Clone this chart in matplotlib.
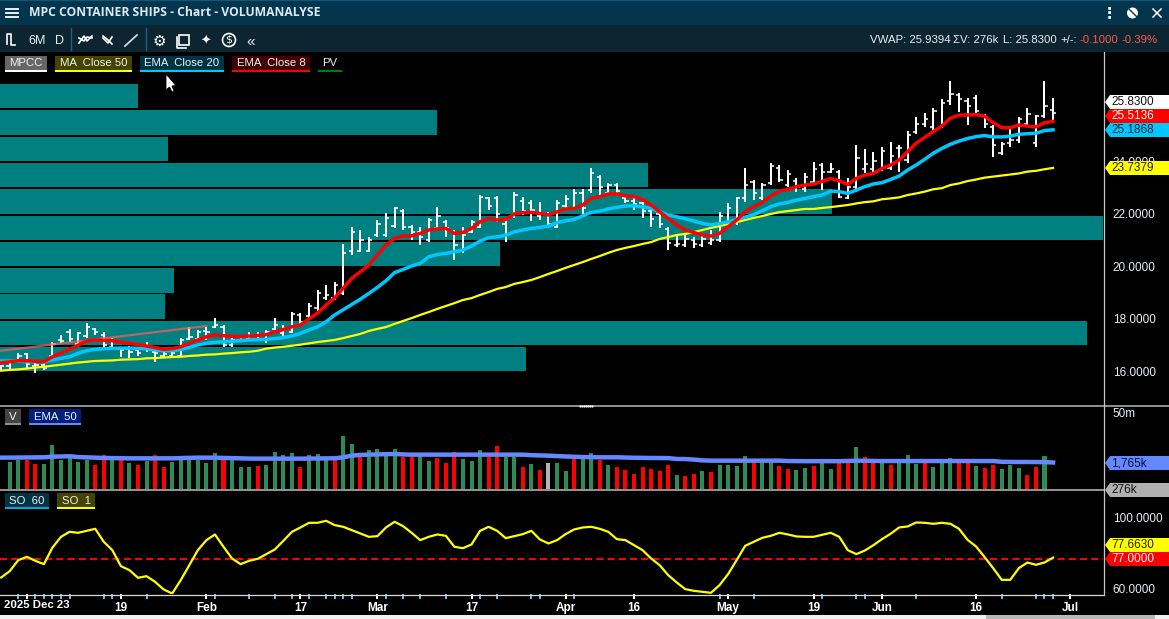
import matplotlib
matplotlib.use("Agg")
import numpy as np
import matplotlib.pyplot as plt
from matplotlib.patches import Polygon, Rectangle
from matplotlib.ticker import FixedLocator, NullLocator, FuncFormatter

W, H = 1169, 619
plt.rcParams['font.family'] = ['Liberation Sans', 'DejaVu Sans']

# price bars
high = [16.25, 16.44, 16.70, 16.72, 16.31, 16.31, 17.13, 17.39, 17.60, 17.51, 17.83, 17.64, 17.51, 17.26, 16.94, 16.97,
        16.84, 17.13, 16.82, 16.75, 16.75, 17.26, 17.68, 17.58, 17.70, 18.02, 17.77, 17.26, 17.26, 17.51, 17.51, 17.58,
        18.02, 17.77, 18.27, 18.21, 18.60, 19.10, 19.30, 19.40, 20.83, 21.50, 21.38, 21.12, 21.76, 22.01, 22.24, 22.16,
        21.57, 21.50, 21.82, 22.26, 21.76, 21.38, 21.50, 21.76, 22.71, 22.65, 22.68, 21.82, 22.84, 22.65, 22.52, 22.46,
        22.08, 22.52, 22.71, 22.92, 22.92, 23.72, 23.47, 23.15, 23.15, 22.71, 22.58, 22.45, 22.20, 22.07, 21.50, 21.19,
        21.28, 21.12, 21.19, 21.38, 22.07, 22.39, 22.65, 23.72, 23.30, 23.15, 23.94, 23.85, 23.66, 23.34, 23.56, 23.98,
        23.91, 23.94, 23.68, 23.34, 24.60, 24.45, 24.36, 24.52, 24.74, 24.61, 25.16, 25.69, 25.84, 26.00, 26.35, 27.05,
        26.60, 26.39, 26.51, 25.79, 25.37, 24.74, 25.31, 25.69, 26.00, 25.75, 27.05, 26.39]
low = [16.00, 16.08, 16.35, 16.12, 15.96, 16.06, 16.56, 17.07, 17.13, 17.00, 17.26, 17.39, 16.94, 16.88, 16.56, 16.50,
       16.59, 16.76, 16.37, 16.56, 16.54, 16.56, 17.20, 17.20, 17.20, 17.64, 16.94, 16.94, 17.13, 17.20, 17.20, 17.10,
       17.58, 17.35, 17.45, 17.77, 18.00, 18.30, 18.70, 18.70, 18.90, 20.43, 20.55, 20.55, 21.12, 21.12, 21.44, 21.38,
       21.00, 20.81, 20.93, 21.38, 21.12, 20.24, 20.49, 21.25, 21.44, 22.14, 21.69, 20.93, 21.82, 21.95, 21.73, 21.76,
       21.44, 21.44, 22.20, 22.14, 21.95, 22.77, 22.71, 22.71, 22.71, 22.39, 22.14, 21.82, 21.50, 21.44, 20.62, 20.74,
       20.74, 20.68, 20.74, 20.81, 20.93, 21.63, 21.57, 22.45, 22.52, 22.52, 23.09, 23.22, 23.03, 22.84, 22.84, 23.15,
       22.90, 23.56, 22.58, 22.54, 22.84, 23.56, 23.60, 23.63, 23.66, 23.60, 23.91, 25.03, 25.31, 25.18, 25.25, 26.13,
       25.88, 25.37, 25.82, 25.25, 24.17, 24.23, 24.55, 24.68, 25.37, 24.55, 25.63, 25.53]
opens = [16.05, 16.20, 16.45, 16.65, 16.20, 16.25, 16.60, 17.20, 17.50, 17.05, 17.35, 17.60, 17.40, 16.95, 16.85, 16.85,
         16.80, 16.85, 16.75, 16.60, 16.60, 16.60, 17.25, 17.25, 17.55, 17.70, 17.70, 17.00, 17.20, 17.25, 17.35, 17.20,
         17.60, 17.45, 17.50, 18.15, 18.10, 18.40, 18.80, 18.80, 19.00, 20.60, 20.60, 20.60, 21.20, 21.20, 21.55, 22.10,
         21.50, 21.30, 21.00, 21.45, 21.70, 21.30, 20.60, 21.30, 21.50, 22.60, 22.60, 21.60, 21.90, 22.50, 22.40, 21.90,
         22.00, 21.50, 22.30, 22.20, 22.80, 22.90, 23.40, 22.80, 23.10, 22.60, 22.50, 22.40, 22.10, 22.00, 21.40, 20.80,
         20.80, 21.00, 20.80, 20.90, 21.00, 21.70, 21.70, 22.60, 23.20, 22.60, 23.15, 23.75, 23.10, 23.25, 22.95, 23.20,
         23.85, 23.60, 23.60, 22.60, 23.00, 23.70, 23.70, 23.70, 23.75, 24.50, 24.05, 25.10, 25.40, 25.30, 25.30, 26.30,
         26.50, 26.30, 26.40, 25.70, 25.30, 24.30, 24.70, 24.80, 25.40, 24.70, 25.70, 25.93]
closes = [16.20, 16.40, 16.60, 16.30, 16.25, 16.15, 17.05, 17.15, 17.25, 17.45, 17.70, 17.50, 17.00, 17.15, 16.80, 16.75,
          16.70, 16.90, 16.70, 16.65, 16.70, 17.20, 17.30, 17.50, 17.50, 17.75, 17.00, 17.20, 17.20, 17.40, 17.40, 17.50,
          17.75, 17.65, 18.20, 17.90, 18.50, 19.00, 18.90, 19.30, 20.50, 21.30, 21.00, 21.00, 21.60, 21.85, 22.20, 21.50,
          21.30, 21.10, 21.75, 21.90, 21.45, 20.80, 21.20, 21.70, 22.65, 22.30, 22.00, 21.80, 22.70, 22.10, 22.15, 22.00,
          21.60, 22.40, 22.55, 22.80, 22.20, 23.55, 23.00, 23.10, 22.85, 22.50, 22.35, 22.10, 21.80, 21.60, 20.90, 20.85,
          21.05, 20.85, 21.05, 21.00, 21.90, 22.20, 22.60, 23.10, 22.80, 23.10, 23.80, 23.30, 23.50, 23.00, 23.40, 23.70,
          23.60, 23.70, 22.65, 23.00, 24.10, 23.90, 24.00, 24.40, 24.20, 24.50, 25.00, 25.40, 25.60, 25.90, 26.20, 26.55,
          26.35, 26.10, 25.90, 25.40, 24.60, 24.65, 24.80, 25.60, 25.80, 25.70, 26.10, 25.83]

ema8 = [16.33, 16.37, 16.41, 16.41, 16.39, 16.37, 16.56, 16.70, 16.85, 17.00, 17.16, 17.20, 17.18, 17.17, 17.11, 17.07,
        17.02, 16.97, 16.91, 16.84, 16.87, 16.94, 17.07, 17.20, 17.32, 17.39, 17.36, 17.34, 17.32, 17.35, 17.37, 17.40,
        17.51, 17.60, 17.70, 17.77, 18.00, 18.22, 18.53, 18.80, 19.17, 19.54, 19.79, 20.05, 20.43, 20.81, 21.06, 21.15,
        21.16, 21.25, 21.38, 21.42, 21.44, 21.25, 21.29, 21.44, 21.69, 21.82, 21.76, 21.78, 21.99, 22.04, 22.05, 22.01,
        21.95, 22.07, 22.18, 22.20, 22.33, 22.58, 22.65, 22.75, 22.75, 22.68, 22.65, 22.54, 22.33, 22.07, 21.82, 21.57,
        21.38, 21.28, 21.19, 21.15, 21.25, 21.50, 21.76, 22.07, 22.27, 22.43, 22.67, 22.86, 22.92, 23.03, 23.09, 23.13,
        23.23, 23.34, 23.25, 23.11, 23.34, 23.47, 23.53, 23.72, 23.85, 24.04, 24.36, 24.68, 24.90, 25.12, 25.33, 25.63,
        25.75, 25.75, 25.77, 25.71, 25.46, 25.27, 25.27, 25.37, 25.33, 25.30, 25.46, 25.51]
ema20 = [16.40, 16.40, 16.39, 16.37, 16.37, 16.37, 16.44, 16.50, 16.56, 16.69, 16.79, 16.84, 16.87, 16.88, 16.89, 16.89,
         16.88, 16.87, 16.82, 16.79, 16.79, 16.84, 16.92, 17.01, 17.07, 17.11, 17.13, 17.15, 17.17, 17.20, 17.21, 17.22,
         17.25, 17.29, 17.35, 17.45, 17.58, 17.70, 17.89, 18.15, 18.35, 18.55, 18.75, 18.97, 19.20, 19.45, 19.76, 19.88,
         20.01, 20.11, 20.36, 20.45, 20.49, 20.55, 20.62, 20.77, 20.96, 21.09, 21.12, 21.18, 21.31, 21.38, 21.44, 21.48,
         21.53, 21.66, 21.73, 21.78, 21.92, 22.05, 22.10, 22.18, 22.24, 22.29, 22.30, 22.26, 22.20, 22.08, 21.95, 21.88,
         21.81, 21.72, 21.63, 21.57, 21.63, 21.69, 21.78, 21.87, 21.96, 22.11, 22.27, 22.37, 22.43, 22.52, 22.58, 22.65,
         22.71, 22.86, 22.84, 22.77, 22.90, 23.03, 23.13, 23.18, 23.30, 23.43, 23.66, 23.85, 24.07, 24.30, 24.48, 24.64,
         24.76, 24.86, 24.93, 24.97, 24.92, 24.92, 24.95, 25.02, 25.04, 25.06, 25.16, 25.19]
ma50 = [16.03, 16.06, 16.08, 16.11, 16.15, 16.18, 16.22, 16.26, 16.30, 16.34, 16.37, 16.40, 16.41, 16.42, 16.45, 16.46,
        16.47, 16.50, 16.51, 16.53, 16.55, 16.56, 16.59, 16.61, 16.64, 16.65, 16.68, 16.70, 16.73, 16.75, 16.79, 16.87,
        16.91, 16.94, 16.98, 17.02, 17.07, 17.12, 17.16, 17.20, 17.27, 17.35, 17.43, 17.54, 17.62, 17.69, 17.81, 17.92,
        18.03, 18.15, 18.26, 18.38, 18.49, 18.60, 18.72, 18.79, 18.91, 19.02, 19.14, 19.21, 19.33, 19.40, 19.48, 19.59,
        19.71, 19.82, 19.94, 20.05, 20.16, 20.28, 20.39, 20.51, 20.62, 20.70, 20.77, 20.85, 20.92, 21.04, 21.11, 21.19,
        21.23, 21.30, 21.38, 21.46, 21.53, 21.61, 21.68, 21.76, 21.84, 21.91, 21.99, 22.06, 22.10, 22.14, 22.18, 22.18,
        22.22, 22.25, 22.29, 22.33, 22.39, 22.44, 22.47, 22.55, 22.58, 22.62, 22.71, 22.77, 22.84, 22.93, 22.97, 23.09,
        23.15, 23.24, 23.30, 23.37, 23.41, 23.45, 23.49, 23.53, 23.60, 23.63, 23.69, 23.74]

# horizontal volume-at-price blocks, one per whole price level
vp_levels = [16, 17, 18, 19, 20, 21, 22, 23, 24, 25, 26]
vp_volume = [526, 1087, 165, 174, 500, 1103, 832, 648, 168, 437, 138]

trend_i = [0, 24]
trend_price = [16.79, 17.73]

price_ticks = [16, 18, 20, 22, 24]

# volume pane, in thousands
volume = [276, 1830, 2090, 2090, 1600, 1600, 5760, 2090, 2340, 1780, 2090, 1490, 2930, 2090, 2090, 1710,
          1490, 1950, 2930, 1300, 1830, 2090, 2090, 2090, 1710, 3350, 2090, 2620, 1300, 1300, 1400, 1490,
          3590, 2930, 3350, 1300, 2930, 3130, 2090, 2090, 10600, 6170, 2620, 4110, 4390, 3590, 4390, 2620,
          2620, 2700, 1950, 2450, 1740, 3590, 2240, 1950, 4110, 2620, 5380, 2620, 2620, 1300, 1600, 1070,
          1710, 1710, 1000, 2400, 2400, 3350, 2090, 1490, 1300, 1070, 810, 1300, 1140, 1000, 1490, 760,
          710, 810, 1000, 930, 1490, 1490, 1400, 2730, 2090, 2090, 2090, 1400, 1140, 1070, 1220, 1400,
          1870, 1140, 1870, 1870, 5030, 2570, 1870, 1870, 1490, 1870, 2930, 1600, 1870, 1300, 1870, 2400,
          1870, 1870, 1400, 1220, 1490, 1140, 1490, 1220, 760, 1300, 2730, 276]
vol_dir = ("gggrrggggg" "grrgrgrgrr" "ggggggrggg" "rggggrgggr" "ggrggggrrg" "grrrgggrrg"
           "grgrnggrgg" "rgrrrrrrrg" "rrgrggggrg" "grrggrggrr" "grrgrgggrg" "ggrrgrrggg" "rrgr")
vol_ema = [2450, 2460, 2470, 2480, 2500, 2510, 2620, 2650, 2700, 2550, 2500, 2450, 2400, 2380, 2360, 2340,
           2340, 2340, 2340, 2340, 2340, 2380, 2420, 2450, 2450, 2450, 2400, 2380, 2340, 2300, 2290, 2290,
           2290, 2290, 2290, 2290, 2300, 2320, 2340, 2340, 2500, 2800, 2950, 3000, 3050, 3100, 3130, 3050,
           3000, 3000, 3000, 3000, 3000, 3000, 3000, 3000, 3000, 3000, 3000, 3000, 3000, 3000, 2900, 2850,
           2800, 2730, 2650, 2600, 2560, 2530, 2510, 2510, 2510, 2470, 2430, 2420, 2400, 2390, 2380, 2240,
           2230, 2150, 2040, 2000, 2000, 2000, 2000, 2000, 2000, 2000, 2000, 2000, 1950, 1940, 1930, 1930,
           1930, 1930, 1930, 1960, 1990, 1990, 1960, 1950, 1950, 1950, 1950, 1950, 1950, 1950, 1950, 1950,
           1950, 1950, 1950, 1950, 1950, 1850, 1840, 1830, 1830, 1820, 1810, 1765]

so_line = [66.48, 70.05, 76.25, 78.13, 75.87, 74.00, 83.38, 89.39, 92.21, 91.65, 92.77, 93.90, 86.58, 81.88, 72.87, 70.62,
           66.30, 67.23, 64.04, 59.72, 57.47, 64.98, 73.43, 81.88, 87.52, 90.71, 83.76, 77.19, 74.00, 75.87, 77.00, 79.63,
           82.26, 87.14, 92.21, 94.65, 97.28, 97.28, 98.41, 95.97, 95.03, 93.15, 91.27, 89.39, 89.77, 94.65, 97.85, 95.40,
           91.65, 87.52, 89.39, 90.71, 89.96, 83.76, 83.00, 85.08, 92.77, 95.03, 92.77, 88.64, 89.77, 90.90, 92.77, 87.89,
           85.64, 87.52, 90.90, 93.53, 94.65, 95.03, 93.90, 92.21, 88.08, 87.52, 84.70, 81.88, 77.19, 73.43, 67.80, 63.67,
           59.91, 58.97, 58.41, 57.85, 62.16, 68.36, 76.25, 84.32, 86.58, 88.83, 89.96, 91.65, 90.71, 89.58, 89.39, 89.39,
           90.52, 91.65, 89.39, 81.88, 79.63, 81.69, 84.70, 88.08, 91.08, 94.65, 95.22, 97.47, 97.28, 96.72, 97.28, 96.72,
           93.90, 87.70, 83.95, 77.94, 71.74, 65.17, 65.17, 71.74, 74.93, 73.62, 74.93, 77.66]
so_level = 77.0

date_ticks = [14, 24, 35, 44, 55, 66, 74, 85, 95, 103, 114, 125]
date_labels = ['19', 'Feb', '17', 'Mar', '17', 'Apr', '16', 'May', '19', 'Jun', '16', 'Jul']
first_tick = 3
mark_ticks = [2, 4, 5, 6, 7, 8, 12, 13, 17, 25, 29, 32, 34, 36, 38, 39, 40, 41, 44, 45, 47, 49, 52, 56, 62, 63, 67,
              74, 84, 85, 88, 96, 100, 101, 107, 121, 122, 123]
red_ticks = [58, 117]

FG = '#e8eef2'
PANE_L, PANE_R = 0, 1103
AXIS_FS = 8.5
UI_FS = 8.2


def pane(top, bottom, **kw):
    return fig.add_axes([PANE_L / W, 1 - bottom / H, (PANE_R - PANE_L) / W, (bottom - top) / H], **kw)


fig = plt.figure(figsize=(W / 100, H / 100), dpi=100, facecolor='black')
idx = np.arange(len(high))
xlim = (-1.15 / 8.552, (1103 - 1.15) / 8.552)
price_lim = (14.726, 28.148)

# volume-at-price sits under everything else
ax_vp = pane(52, 405, facecolor='black')
ax_vp.barh(vp_levels, vp_volume, height=0.93, align='edge', color='#008080')
ax_vp.set_xlim(0, 1103)
ax_vp.set_ylim(price_lim)
ax_vp.axis('off')

ax = pane(52, 405, facecolor='none')
ax.vlines(idx, low, high, color='white', lw=1.45, zorder=3)
ax.hlines(opens, idx - 0.38, idx, color='white', lw=1.1, zorder=3)
ax.hlines(closes, idx, idx + 0.38, color='white', lw=1.1, zorder=3)
ax.plot(trend_i, trend_price, color='#ff5a5a', lw=1.6, alpha=0.75, zorder=3)
ax.plot(idx, ma50, color='#ffff00', lw=1.6, zorder=4)
ax.plot(idx, ema20, color='#00c8ff', lw=2.5, zorder=5)
ax.plot(idx, ema8, color='#ff0000', lw=2.5, zorder=6)
ax.set_xlim(xlim)
ax.set_ylim(price_lim)
ax.set_xticks([])
ax.yaxis.tick_right()
ax.set_yticks(price_ticks)
ax.set_yticklabels(['%.4f' % p for p in price_ticks])
ax.tick_params(axis='y', length=0, pad=7, labelcolor=FG, labelsize=AXIS_FS)
for s in ax.spines.values():
    s.set_visible(False)

# volume pane is on a log scale
ax_v = pane(406, 490, facecolor='black')
vol = np.array(volume) * 1000.0
vbottom = 276000.0
vcolors = [{'g': '#2e8b57', 'r': '#ff0000', 'n': '#b4b4b4'}[c] for c in vol_dir]
ax_v.bar(idx, vol - vbottom, bottom=vbottom, width=0.47, color=vcolors, zorder=2)
ax_v.plot(idx, np.array(vol_ema) * 1000.0, color='#6688ff', lw=3.2, zorder=3)
ax_v.set_yscale('log')
ax_v.set_xlim(xlim)
ax_v.set_ylim(vbottom, 8e7)
ax_v.set_xticks([])
ax_v.yaxis.tick_right()
ax_v.yaxis.set_major_locator(FixedLocator([5e7]))
ax_v.yaxis.set_minor_locator(NullLocator())
ax_v.yaxis.set_major_formatter(FuncFormatter(lambda v, p: '%dm' % (v / 1e6)))
ax_v.tick_params(axis='y', length=0, pad=7, labelcolor=FG, labelsize=AXIS_FS)
for s in ax_v.spines.values():
    s.set_visible(False)

# stochastic pane, carries the date axis
ax_s = pane(491, 594, facecolor='black')
ax_s.plot(idx, so_line, color='#ffff00', lw=1.6, zorder=3)
ax_s.axhline(so_level, color='#ff0000', lw=1.5, dashes=(3.4, 2.0), zorder=2)
ax_s.set_xlim(xlim)
ax_s.set_ylim(57.18, 115.2)
ax_s.yaxis.tick_right()
ax_s.set_yticks([60, 100])
ax_s.set_yticklabels(['60.0000', '100.0000'])
ax_s.tick_params(axis='y', length=0, pad=7, labelcolor=FG, labelsize=AXIS_FS)
ax_s.set_xticks(date_ticks + [first_tick])
ax_s.set_xticklabels(date_labels + [''], fontweight='bold', fontsize=AXIS_FS, color='white')
ax_s.tick_params(axis='x', which='major', length=3.8, width=1.4, color='white', pad=2)
minor = mark_ticks + red_ticks
ax_s.set_xticks(minor, minor=True)
ax_s.tick_params(axis='x', which='minor', length=3.8, width=1.4, color='#66c2f0')
for t, m in zip(ax_s.xaxis.get_minor_ticks(), minor):
    if m in red_ticks:
        t.tick1line.set_color('#ff5a5a')
for s in ax_s.spines.values():
    s.set_visible(False)

# window chrome and labels in pixel coordinates
ui = fig.add_axes([0, 0, 1, 1], facecolor='none', zorder=10)
ui.set_xlim(0, W)
ui.set_ylim(H, 0)
ui.axis('off')


def box(x0, y0, x1, y1, c, **kw):
    ui.add_patch(Rectangle((x0, y0), x1 - x0, y1 - y0, fc=c, ec='none', **kw))


box(0, 0, W, 25, '#03364e')
box(0, 25, W, 52, '#0d2431')
box(0, 0, W, 1, '#0b5a78')
ui.text(29, 12.5, 'MPC CONTAINER SHIPS - Chart - VOLUMANALYSE', color='#dfeaf0', fontsize=8.7,
        fontweight='bold', family=['Open Sans', 'DejaVu Sans'], va='center')
for y in (9, 13, 17):
    ui.plot([6, 18], [y, y], color='white', lw=1.3)
# toolbar
ui.plot([7, 7, 11, 11, 15], [44, 34, 34, 45, 45], color='white', lw=1.2)
ui.text(28, 41, '6M', color=FG, fontsize=9, va='center')
ui.text(55, 41, 'D', color=FG, fontsize=9, va='center')
for x in (70.5, 145.5):
    ui.plot([x, x], [28, 50], color='#1f6080', lw=1)
ui.plot([79, 84, 87, 92], [43, 36, 41, 36], color='white', lw=1.2)
ui.plot([79, 84, 87, 92], [38, 41, 37, 38], color='white', lw=1.2)
ui.plot([103, 108, 112], [38, 43, 37], color='white', lw=1.2)
ui.plot([103, 108, 112], [36, 40, 44], color='white', lw=1.2)
ui.plot([125, 137], [46, 35], color='#d0d8dc', lw=1.3)
ui.text(159.5, 41, '\u2699', color='white', fontsize=11, ha='center', va='center', family='DejaVu Sans')
ui.add_patch(Rectangle((179, 35), 10, 10, fc='none', ec='white', lw=1.2))
ui.plot([176.5, 176.5, 186], [37, 47.5, 47.5], color='white', lw=1.2)
ui.text(206, 41, '\u2726', color='white', fontsize=9, ha='center', va='center', family='DejaVu Sans')
ui.text(229, 40, '$', color='white', fontsize=8, ha='center', va='center', family='DejaVu Sans')
ui.add_patch(plt.Circle((229, 40), 6.5, fc='none', ec='white', lw=1.2))
ui.text(251, 42, '\u00ab', color=FG, fontsize=11, ha='center', va='center')
# window buttons
ui.text(1109, 13, '\u22ee', color='white', fontsize=11, ha='center', va='center', family='DejaVu Sans', fontweight='bold')
ui.add_patch(plt.Circle((1132.5, 13), 5.5, fc='white', ec='none'))
ui.plot([1127, 1139], [7, 19], color='#03364e', lw=1)
ui.plot([1153, 1161], [9, 17], color='white', lw=1.1)
ui.plot([1153, 1161], [17, 9], color='white', lw=1.1)
# quote line
ui.text(870, 40, 'VWAP: 25.9394', color=FG, fontsize=UI_FS, va='center')
ui.text(953, 40, '\u03a3V: 276k', color=FG, fontsize=UI_FS, va='center')
ui.text(1003, 40, 'L: 25.8300', color=FG, fontsize=UI_FS, va='center')
ui.text(1060, 40, '+/-:', color=FG, fontsize=UI_FS, va='center')
ui.text(1079, 40, '-0.1000', color='#ff5a4a', fontsize=UI_FS, va='center')
ui.text(1122, 40, '-0.39%', color='#ff5a4a', fontsize=UI_FS, va='center')

# separators
ui.plot([0, W], [405.5, 405.5], color='#a8a8a8', lw=1.2)
ui.plot([0, 1103], [490, 490], color='#909090', lw=1.5)
ui.plot([0, 1103], [594.5, 594.5], color='#d8d8d8', lw=0.9)
ui.plot([1103.5, 1103.5], [52, 595], color='#c8c8c8', lw=0.9)
ui.plot(np.arange(580, 593, 2), [405.5] * 7, color='white', lw=0.7, ls='none', marker='.', ms=1.2)
box(0, 615, W, H, '#f0f0f0')
box(986, 615, 1155, H, '#b8b8b8')


def chip(x0, x1, y0, label, bg, line):
    box(x0, y0, x1, y0 + 16, bg)
    box(x0, y0 + 14, x1, y0 + 16, line)
    ui.text((x0 + x1) / 2, y0 + 7.5, label, color='#eef2f4', fontsize=UI_FS, ha='center', va='center')


chip(5, 47, 56, 'MPCC', '#666666', '#ffffff')
chip(55, 132, 56, 'MA  Close 50', '#444400', '#ffff00')
chip(140, 224, 56, 'EMA  Close 20', '#003344', '#00c8ff')
chip(232, 310, 56, 'EMA  Close 8', '#440000', '#ff0000')
chip(318, 342, 56, 'PV', '#000000', '#008000')
chip(5, 21, 409, 'V', '#444444', '#909090')
chip(29, 81, 409, 'EMA  50', '#00207a', '#6688ff')
chip(5, 49, 493, 'SO  60', '#003344', '#00a8e0')
chip(57, 95, 493, 'SO  1', '#444400', '#ffff00')
ui.text(4, 605, '2025 Dec 23', color='white', fontsize=8.2, fontweight='bold', va='center')


def tag(y, label, bg, fg):
    ui.add_patch(Polygon([(1105, y), (1110, y - 7), (1169, y - 7), (1169, y + 7), (1110, y + 7)], fc=bg, ec='none'))
    ui.text(1111, y + 0.3, label, color=fg, fontsize=AXIS_FS, va='center')


tag(102, '25.8300', '#ffffff', '#111111')
tag(116, '25.5136', '#ff0000', '#ffffff')
tag(130, '25.1868', '#00c8ff', '#06222e')
tag(168, '23.7379', '#ffff00', '#222200')
tag(463, '1,765k', '#6688ff', '#0a1030')
tag(490, '276k', '#b0b0b0', '#111111')
tag(545, '77.6630', '#ffff00', '#222200')
tag(559, '77.0000', '#ff0000', '#ffffff')

# mouse pointer
ui.add_patch(Polygon([(166, 74), (166, 90), (169.5, 87), (172, 92), (174, 91), (172, 86), (176, 85.5)],
                     fc='white', ec='black', lw=0.6))

fig.savefig('out.png', dpi=100, facecolor='black')
